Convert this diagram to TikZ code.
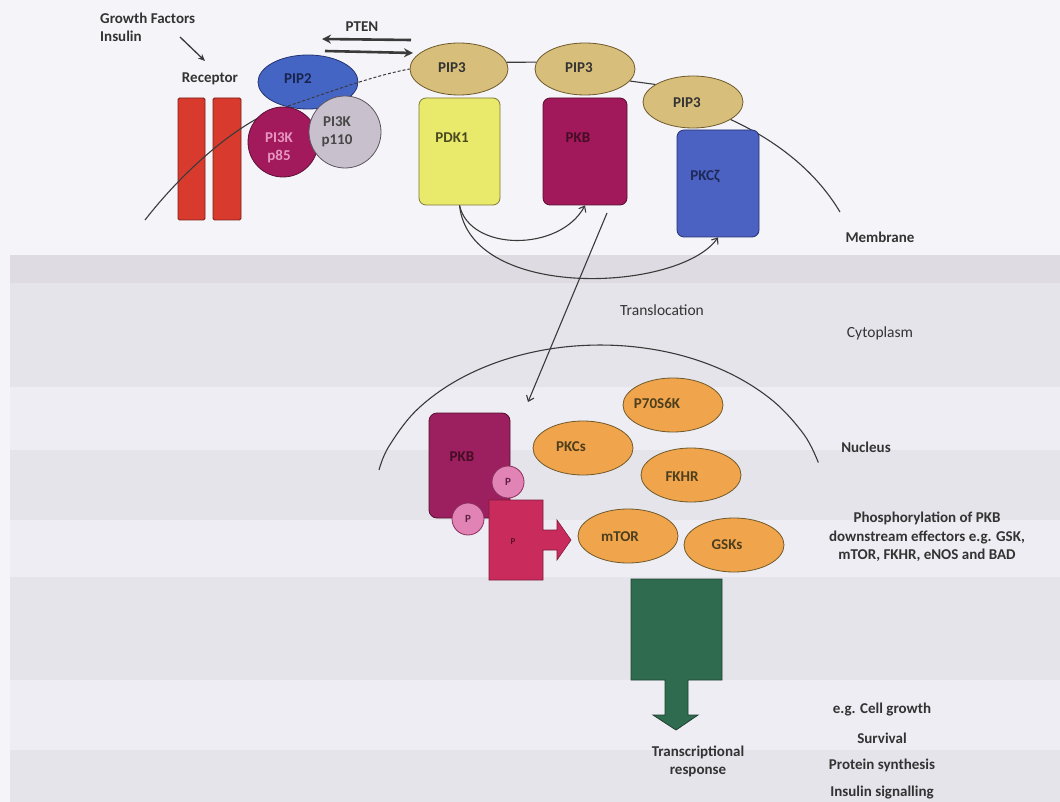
\documentclass[tikz,border=0pt]{standalone}
\usepackage{fontspec}
\setmainfont{Carlito}
\usetikzlibrary{shapes.geometric,arrows.meta}

% page and band tints
\definecolor{pagebg}{HTML}{F5F4F8}
\definecolor{bandhead}{HTML}{DEDCE2}
\definecolor{bandmid}{HTML}{E6E4EB}
\definecolor{bandlight}{HTML}{EEEDF3}
% component fills and outlines
\definecolor{redbar}{HTML}{D83A2E}
\definecolor{redbarline}{HTML}{7A1F18}
\definecolor{pipblue}{HTML}{4565C5}
\definecolor{pipblueline}{HTML}{22346E}
\definecolor{pekfive}{HTML}{A31A5C}
\definecolor{pekfiveline}{HTML}{5C0E35}
\definecolor{pekten}{HTML}{C9C0CD}
\definecolor{pektenline}{HTML}{5A5560}
\definecolor{piptan}{HTML}{D8BE7B}
\definecolor{piptanline}{HTML}{6E5A2C}
\definecolor{pdkyellow}{HTML}{E9E96C}
\definecolor{pdkline}{HTML}{7C7A36}
\definecolor{pkbmag}{HTML}{A2195B}
\definecolor{pkbline}{HTML}{55102F}
\definecolor{pkczblue}{HTML}{4B62C2}
\definecolor{pkczline}{HTML}{26336F}
\definecolor{pkbdark}{HTML}{9C2060}
\definecolor{ppink}{HTML}{E283B6}
\definecolor{ppinkline}{HTML}{8A2E5C}
\definecolor{parrow}{HTML}{C92B5D}
\definecolor{parrowline}{HTML}{7E1A3A}
\definecolor{effector}{HTML}{F0A44C}
\definecolor{effectorline}{HTML}{6E5A2A}
\definecolor{txgreen}{HTML}{2F6C4F}
\definecolor{txgreenline}{HTML}{1D3F2F}
\definecolor{labeltxt}{HTML}{333333}
\definecolor{linegray}{HTML}{3A3A3A}

\begin{document}
\begin{tikzpicture}[x=1pt,y=-1pt,
  lbl/.style={font=\bfseries\fontsize{15}{18.5}\selectfont, text=labeltxt, inner sep=0pt, align=center},
  lblreg/.style={font=\fontsize{15.5}{18.5}\selectfont, text=labeltxt, inner sep=0pt, align=center},
  ell/.style={ellipse, inner sep=0pt, line width=0.8pt},
  box/.style={rectangle, rounded corners=7pt, inner sep=0pt, line width=0.8pt},
  conn/.style={draw=linegray, line width=1.1pt},
  barb/.style={-{Straight Barb[length=5pt,width=8pt]}},
  membrane/.style={draw=linegray, line width=1.1pt},
]
\useasboundingbox (0,0) rectangle (1060,802);

% background page with table shading
\fill[pagebg] (0,0) rectangle (1060,802);
\fill[bandhead] (10,255) rectangle (1060,283);
\fill[bandmid] (10,283) rectangle (1060,387);
\fill[bandlight] (10,387) rectangle (1060,450);
\fill[bandmid] (10,450) rectangle (1060,520);
\fill[bandlight] (10,520) rectangle (1060,577);
\fill[bandmid] (10,577) rectangle (1060,680);
\fill[bandlight] (10,680) rectangle (1060,750);
\fill[bandmid] (10,750) rectangle (1060,802);

% ---------- plasma membrane region ----------
\node[lbl, anchor=west] (gf) at (100,18) {Growth Factors};
\node[lbl, anchor=west] (ins) at (100,36) {Insulin};
\coordinate (gfa) at (180,37);
\coordinate (gfb) at (205,61);
\draw[conn, line width=1.3pt, -{Stealth[length=7pt,width=6pt]}] (gfa) -- (gfb);
\node[lbl] (rec) at (210,79) {Receptor};

% receptor dimer
\node[rectangle, rounded corners=1.5pt, fill=redbar, draw=redbarline, line width=0.8pt,
      minimum width=27pt, minimum height=122pt, inner sep=0pt] (rbarL) at (191.5,159) {};
\node[rectangle, rounded corners=1.5pt, fill=redbar, draw=redbarline, line width=0.8pt,
      minimum width=28pt, minimum height=122pt, inner sep=0pt] (rbarR) at (227,159) {};

% membrane entering from the left
\coordinate (mstart) at (145,220);
\coordinate (mjoin) at (262,116);
\draw[membrane] (mstart) .. controls (180,175) and (225,135) .. (mjoin);

% PI3K complex and PIP2
\node[ell, fill=pipblue, draw=pipblueline, minimum width=100pt, minimum height=54pt] (pip2) at (308,82) {};
\node[circle, inner sep=0pt, fill=pekfive, draw=pekfiveline, line width=0.8pt, minimum size=70pt] (p85) at (283,142) {};
\node[circle, inner sep=0pt, fill=pekten, draw=pektenline, line width=0.8pt, minimum size=72pt] (p110) at (345,132) {};
\node[lbl, text=pipblueline!70!black] (pip2t) at (298,79) {PIP2};
\node[lbl, text=ppink!85!white] (p85t) at (279,148) {PI3K\\p85};
\node[lbl, text=labeltxt!90!white] (p110t) at (337,132) {PI3K\\p110};

% PTEN interconversion
\node[lbl] (pten) at (362,27) {PTEN};
\coordinate (ptenA) at (411,40);
\coordinate (ptenB) at (322,39);
\coordinate (ptenC) at (325,51);
\coordinate (ptenD) at (413,53);
\draw[conn, line width=2.6pt, -{Stealth[length=9pt,width=9pt]}] (ptenA) -- (ptenB);
\draw[conn, line width=2.6pt, -{Stealth[length=9pt,width=9pt]}] (ptenC) -- (ptenD);

% PIP3 lipids in the membrane
\node[ell, fill=piptan, draw=piptanline, minimum width=98pt, minimum height=52pt] (pip3a) at (459,69) {};
\node[ell, fill=piptan, draw=piptanline, minimum width=100pt, minimum height=52pt] (pip3b) at (585,69) {};
\node[ell, fill=piptan, draw=piptanline, minimum width=100pt, minimum height=52pt] (pip3c) at (693,102) {};
\node[lbl] (pip3at) at (452,68) {PIP3};
\node[lbl] (pip3bt) at (579,68) {PIP3};
\node[lbl] (pip3ct) at (687,103) {PIP3};

% membrane through PIP2 and between the PIP3 lipids
\coordinate (mdash) at (288,106);
\draw[membrane, line width=1pt, dash pattern=on 3pt off 2pt] (mdash) .. controls (330,92) and (372,76) .. (pip3a.west);
\draw[membrane] (pip3a.8) -- (pip3b.172);
\draw[membrane] (pip3b.-15) -- (pip3c.155);
\coordinate (mend) at (840,212);
\draw[membrane] (pip3c.-25) .. controls (775,140) and (815,170) .. (mend);
\node[lbl] (memb) at (880,237) {Membrane};

% membrane-bound kinases
\node[box, fill=pdkyellow, draw=pdkline, minimum width=81pt, minimum height=107pt] (pdk) at (459.5,151.5) {};
\node[box, fill=pkbmag, draw=pkbline, minimum width=84pt, minimum height=107pt] (pkb) at (585,151.5) {};
\node[box, fill=pkczblue, draw=pkczline, minimum width=82pt, minimum height=107pt] (pkcz) at (718,183.5) {};
\node[lbl, text=pdkline!60!black] (pdkt) at (452,138) {PDK1};
\node[lbl, text=pkbline!80!black] (pkbt) at (578,138) {PKB};
\node[lbl, text=pkczline!80!black] (pkczt) at (705,177) {PKCζ};

% PDK1 activates PKB and PKC-zeta
\draw[conn, barb] (pdk.south) .. controls (470,252) and (560,252) .. (pkb.south);
\draw[conn, barb] (pdk.south) .. controls (470,302) and (680,292) .. (pkcz.south);

% translocation to the nucleus
\coordinate (trA) at (607,213);
\coordinate (trB) at (528,402);
\draw[conn, barb] (trA) -- (trB);
\node[lblreg] (trans) at (662,310) {Translocation};
\node[lblreg] (cyto) at (880,333) {Cytoplasm};

% ---------- nucleus ----------
\draw[membrane] plot[smooth, tension=0.6] coordinates {(379,470) (388.5,447) (415.7,411) (455.4,381.3) (504.9,359.6) (560.9,347.4) (619.6,345.6) (677,354.3) (729,373) (772.4,400.4) (803.9,434.4) (818.3,462.5)};
\node[lbl] (nuc) at (866,447) {Nucleus};

% phosphorylated PKB acting on effectors
\node[box, rounded corners=8pt, fill=pkbdark, draw=pkbline, minimum width=81pt, minimum height=105pt] (pkbn) at (469.5,465.5) {};
\node[lbl, text=pkbline!80!black] (pkbnt) at (462,457) {PKB};
\fill[parrow, draw=parrowline, line width=0.6pt] (489,500) -- (543,500) -- (543,530) -- (557,530) -- (557,520) -- (571,540) -- (557,560) -- (557,550) -- (543,550) -- (543,580) -- (489,580) -- cycle;
\node[font=\bfseries\fontsize{9}{9}\selectfont, text=parrowline!70!black, inner sep=0pt] (pblockt) at (513,542) {P};
\node[circle, inner sep=0pt, fill=ppink, draw=ppinkline, line width=0.8pt, minimum size=32pt] (pa) at (508,482) {};
\node[circle, inner sep=0pt, fill=ppink, draw=ppinkline, line width=0.8pt, minimum size=32pt] (pb) at (468,519) {};
\node[font=\bfseries\fontsize{11}{11}\selectfont, text=ppinkline!70!black, inner sep=0pt] (pat) at (508,482) {P};
\node[font=\bfseries\fontsize{11}{11}\selectfont, text=ppinkline!70!black, inner sep=0pt] (pbt) at (468,519) {P};

% downstream effectors
\node[ell, fill=effector, draw=effectorline, minimum width=100pt, minimum height=54pt] (p70) at (673,405) {};
\node[ell, fill=effector, draw=effectorline, minimum width=100pt, minimum height=54pt] (pkcs) at (583,448) {};
\node[ell, fill=effector, draw=effectorline, minimum width=100pt, minimum height=54pt] (fkhr) at (691,475) {};
\node[ell, fill=effector, draw=effectorline, minimum width=100pt, minimum height=54pt] (mtor) at (628,536) {};
\node[ell, fill=effector, draw=effectorline, minimum width=100pt, minimum height=54pt] (gsks) at (734,545) {};
\node[lbl, text=effectorline!70!black] (p70t) at (657,403) {P70S6K};
\node[lbl, text=effectorline!70!black] (pkcst) at (571,447) {PKCs};
\node[lbl, text=effectorline!70!black] (fkhrt) at (682,477) {FKHR};
\node[lbl, text=effectorline!70!black] (mtort) at (620,537) {mTOR};
\node[lbl, text=effectorline!70!black] (gskst) at (727,545) {GSKs};

\node[lbl] (phos) at (927,537) {Phosphorylation of PKB\\downstream effectors e.g. GSK,\\mTOR, FKHR, eNOS and BAD};

% transcriptional output
\fill[txgreen, draw=txgreenline, line width=0.8pt] (631,579) -- (722,579) -- (722,680) -- (688,680) -- (688,715) -- (698,715) -- (676,730) -- (653,715) -- (665,715) -- (665,680) -- (631,680) -- cycle;
\coordinate (txout) at (676,730);
\node[lbl] (txr) at (698,761.5) {Transcriptional\\response};
\node[lbl] (eg) at (882,710) {e.g. Cell growth};
\node[lbl] (surv) at (882,738) {Survival};
\node[lbl] (prot) at (882,765) {Protein synthesis};
\node[lbl] (insig) at (882,793) {Insulin signalling};
\end{tikzpicture}
\end{document}
